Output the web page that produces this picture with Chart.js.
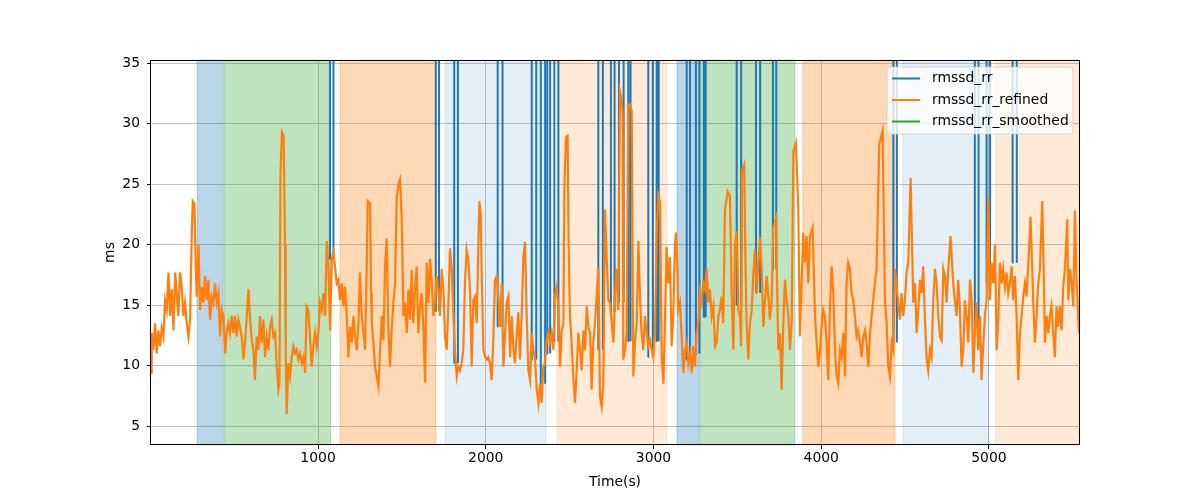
<!DOCTYPE html>
<html lang="en">

<head>
    <meta charset="UTF-8">
    <title>rmssd</title>
    <script src="https://cdn.jsdelivr.net/npm/chart.js"></script>
    <style>
        body { margin: 0; background: #fff; }
    </style>
</head>

<body>
    <canvas id="grafico" width="1200" height="500"></canvas>
</body>

</html>

<script>
    // time (s) and rmssd_rr_refined (ms)
    var timeRefined = [
        4, 8, 18, 28, 38, 48, 58, 68, 78, 88, 98, 108, 118, 128, 138, 148, 157, 167, 177, 187, 197, 207, 217, 227, 237, 247, 253, 263, 271, 277, 287, 297, 306, 316, 326, 336, 346, 356, 366, 376, 386, 396, 406, 416, 426, 436, 446, 456, 465, 475, 485, 495, 505, 515, 525, 535, 545, 555, 565, 575, 585, 595, 605, 615, 624, 634, 644, 654, 664, 674, 684, 694, 704, 714, 724, 734, 744, 754, 764, 770, 776, 785, 795, 803, 807, 813, 823, 833, 843, 853, 863, 873, 883, 893, 903, 913, 923, 932, 942, 952, 962, 972, 982, 992, 1002, 1012, 1022, 1032, 1042, 1052, 1062, 1072, 1082, 1091, 1101, 1111, 1121, 1131, 1141, 1151, 1161, 1171, 1181, 1191, 1201, 1211, 1221, 1231, 1240, 1250, 1260, 1270, 1280, 1290, 1296, 1310, 1316, 1320, 1330, 1340, 1350, 1360, 1370, 1380, 1390, 1399, 1409, 1419, 1429, 1439, 1449, 1459, 1469, 1479, 1489, 1499, 1509, 1519, 1529, 1539, 1549, 1558, 1568, 1578, 1588, 1598, 1608, 1618, 1628, 1638, 1648, 1658, 1668, 1678, 1688, 1698, 1707, 1717,
        1727, 1737, 1747, 1757, 1767, 1777, 1787, 1797, 1807, 1817, 1827, 1837, 1847, 1856, 1866, 1876, 1886, 1896, 1906, 1916, 1926, 1936, 1946, 1956, 1962, 1970, 1976, 1986, 1996, 2006, 2015, 2025, 2035, 2045, 2055, 2065, 2075, 2085, 2095, 2105, 2115, 2125, 2135, 2145, 2155, 2165, 2174, 2184, 2194, 2204, 2214, 2224, 2234, 2244, 2254, 2264, 2274, 2284, 2294, 2304, 2314, 2323, 2333, 2343, 2353, 2363, 2373, 2383, 2393, 2403, 2413, 2423, 2433, 2443, 2453, 2463, 2469, 2478, 2488, 2494, 2502, 2512, 2522, 2532, 2542, 2552, 2562, 2572, 2582, 2592, 2602, 2612, 2622, 2631, 2641, 2651, 2661, 2671, 2681, 2691, 2701, 2711, 2721, 2731, 2741, 2751, 2761, 2771, 2780, 2790, 2800, 2810, 2816, 2820, 2830, 2840, 2850, 2860, 2870, 2880, 2890, 2900, 2910, 2920, 2929, 2939, 2949, 2959, 2969, 2979, 2989, 2999, 3009, 3019, 3029, 3039, 3049, 3059, 3069, 3078, 3088, 3098, 3108, 3118, 3128, 3134, 3142, 3148, 3158, 3168, 3178, 3188, 3198, 3208, 3218, 3228, 3237, 3247, 3257, 3267, 3277, 3287, 3297, 3307, 3317, 3327, 3337, 3347, 3357, 3367, 3377, 3387, 3396, 3406, 3416, 3426, 3442, 3456, 3466, 3476, 3486, 3496, 3506,
        3516, 3522, 3528, 3541, 3549, 3555, 3565, 3575, 3585, 3595, 3605, 3615, 3625, 3635, 3645, 3655, 3665, 3675, 3685, 3694, 3704, 3714, 3730, 3744, 3754, 3764, 3774, 3784, 3794, 3804, 3814, 3824, 3834, 3849, 3863, 3873, 3883, 3893, 3903, 3913, 3923, 3933, 3949, 3963, 3973, 3983, 3993, 4002, 4012, 4022, 4032, 4042, 4052, 4062, 4072, 4082, 4092, 4102, 4112, 4122, 4132, 4142, 4151, 4161, 4171, 4181, 4191, 4201, 4211, 4221, 4231, 4241, 4251, 4261, 4271, 4281, 4291, 4301, 4310, 4320, 4330, 4346, 4366, 4380, 4390, 4400, 4410, 4420, 4430, 4440, 4450, 4459, 4469, 4479, 4489, 4499, 4509, 4519, 4533, 4549, 4559, 4569, 4579, 4589, 4599, 4608, 4618, 4628, 4638, 4648, 4658, 4668, 4678, 4688, 4698, 4708, 4718, 4728, 4738, 4748, 4758, 4771, 4787, 4797, 4807, 4817, 4827, 4837, 4847, 4857, 4867, 4877, 4887, 4897, 4907, 4916, 4926, 4936, 4946, 4956, 4966, 4976, 4986, 4996, 5006, 5016, 5026, 5036, 5046, 5056, 5066, 5075, 5085, 5095, 5105, 5115, 5125, 5135, 5145, 5155, 5165, 5175, 5185, 5195, 5205, 5215, 5224, 5234, 5248, 5264, 5274, 5284, 5294, 5304, 5318, 5328, 5334, 5344, 5354, 5364, 5373, 5383, 5393, 5403, 5413, 5423, 5433, 5443, 5453, 5467, 5473, 5483, 5493, 5503, 5513, 5522, 5532, 5537
    ];
    var rmssdRefined = [
        9.4, 12.7, 11.3, 13.5, 11.0, 12.9, 11.6, 13.1, 12.4, 15.4, 14.6, 17.7, 14.1, 16.3, 12.9, 17.7, 16.0, 14.1, 17.7, 16.5, 14.1, 15.2, 13.5, 12.4, 13.8, 20.8, 23.6, 23.4, 18.0, 15.7, 20.0, 14.6, 16.5, 15.2, 17.4, 15.4, 17.1, 13.8, 15.7, 15.2, 16.8, 15.2, 16.0, 12.4, 14.6, 14.1, 11.0, 12.9, 13.5, 12.7, 14.1, 12.7, 14.1, 12.4, 13.8, 13.2, 12.4, 10.5, 11.9, 14.1, 16.3, 13.8, 12.1, 11.3, 8.8, 12.4, 11.3, 14.1, 11.9, 13.8, 10.7, 12.4, 11.3, 13.2, 13.8, 12.4, 12.7, 9.9, 8.0, 8.5, 26.0, 29.3, 29.0, 20.0, 11.3, 6.0, 10.2, 9.1, 10.7, 11.6, 11.0, 11.3, 10.5, 11.0, 10.2, 10.7, 9.4, 14.9, 14.6, 12.4, 9.9, 11.6, 12.7, 11.6, 12.7, 15.2, 14.6, 16.0, 14.1, 20.3, 18.2, 12.9, 18.8, 19.4, 18.2, 16.8, 17.1, 15.4, 16.8, 14.9, 16.5, 14.1, 10.7, 13.2, 11.9, 14.1, 12.4, 11.3, 13.2, 17.7, 14.1, 12.9, 11.3, 18.0, 23.6, 23.4, 16.0, 13.5, 11.9, 9.9, 9.1, 8.3, 11.3, 14.1, 12.1, 18.0, 20.5, 13.2, 9.9, 12.9, 15.2, 16.8, 23.8, 25.0, 25.4, 22.0, 14.1, 15.2, 12.7, 16.3, 13.8, 17.9, 13.5, 16.3, 18.2, 12.7, 14.9, 16.0, 13.2, 8.6, 18.5, 15.2, 18.8, 16.8, 14.1, 15.4, 17.4, 16.3,
        14.1, 18.0, 16.5, 12.4, 11.3, 15.0, 19.7, 18.0, 14.1, 11.0, 9.1, 9.9, 9.6, 10.2, 11.3, 16.8, 19.6, 18.8, 16.3, 9.9, 15.4, 15.7, 13.5, 20.0, 23.6, 22.5, 17.4, 11.3, 10.7, 10.5, 10.7, 10.2, 8.8, 12.1, 17.1, 17.4, 15.7, 13.2, 16.8, 9.9, 12.7, 15.2, 15.7, 10.7, 14.1, 11.3, 10.2, 12.4, 14.4, 10.5, 14.1, 19.0, 20.2, 14.1, 9.6, 8.8, 12.7, 11.3, 10.5, 8.0, 6.9, 8.5, 6.9, 9.9, 10.2, 12.1, 12.7, 11.9, 12.7, 11.3, 15.7, 16.5, 14.9, 9.9, 12.9, 13.5, 25.0, 28.9, 29.0, 20.0, 14.1, 11.9, 9.1, 6.9, 9.6, 12.7, 11.3, 9.6, 12.9, 11.3, 14.9, 13.2, 12.7, 8.0, 11.9, 13.5, 15.7, 18.0, 7.5, 6.6, 8.5, 22.9, 19.0, 15.4, 15.2, 13.5, 11.9, 16.0, 18.0, 14.6, 32.7, 32.0, 30.8, 10.5, 11.3, 12.7, 31.6, 31.6, 31.0, 9.1, 11.9, 13.5, 20.3, 15.4, 12.7, 11.3, 14.1, 12.7, 11.6, 12.1, 11.3, 10.7, 12.7, 21.0, 24.1, 23.5, 10.7, 8.5, 14.1, 19.8, 16.8, 19.0, 11.6, 14.1, 20.0, 21.0, 18.2, 14.6, 15.2, 12.4, 9.4, 11.3, 11.9, 10.2, 11.0, 9.4, 11.6, 9.9, 12.7, 13.5, 16.0, 15.2, 16.8, 16.3, 18.0, 15.2, 16.3, 14.1, 14.9, 11.6, 11.9, 14.1, 14.6, 15.7, 13.5, 22.8, 24.4, 24.0, 16.0, 11.3, 20.0, 21.1, 14.6,
        14.1, 11.6, 26.1, 26.6, 18.0, 13.5, 10.5, 13.5, 14.5, 17.5, 19.6, 16.0, 18.5, 20.6, 18.0, 13.2, 15.4, 17.4, 15.7, 13.8, 15.2, 21.4, 22.2, 11.3, 12.7, 8.0, 13.5, 17.1, 15.4, 14.1, 11.3, 13.8, 27.7, 28.4, 23.3, 12.4, 16.8, 21.0, 18.5, 20.7, 16.8, 20.7, 21.4, 14.1, 11.9, 9.9, 11.3, 13.2, 14.6, 14.1, 11.9, 8.8, 14.6, 18.2, 16.0, 11.3, 9.1, 8.5, 11.3, 10.7, 12.7, 9.1, 16.8, 18.5, 18.0, 16.0, 15.4, 14.1, 12.4, 12.9, 11.9, 10.7, 12.4, 12.9, 11.9, 9.9, 12.7, 14.1, 15.4, 16.8, 18.0, 28.3, 29.4, 15.4, 13.5, 9.9, 9.1, 11.9, 11.3, 18.0, 16.5, 15.2, 13.8, 16.0, 14.1, 15.4, 17.7, 18.5, 25.5, 15.2, 16.8, 12.7, 14.6, 17.1, 16.0, 18.2, 14.1, 10.7, 9.6, 11.3, 10.7, 15.4, 18.0, 16.8, 14.1, 12.4, 12.1, 18.0, 17.4, 15.2, 18.0, 20.7, 16.8, 15.4, 14.1, 17.1, 14.6, 9.9, 11.3, 15.4, 14.1, 11.9, 17.1, 15.4, 9.4, 12.7, 15.2, 11.3, 14.1, 8.8, 11.6, 14.1, 15.4, 23.9, 15.4, 18.5, 16.8, 20.0, 11.3, 14.1, 18.5, 16.8, 18.0, 16.5, 17.7, 16.0, 16.8, 18.2, 15.4, 17.4, 14.1, 8.8, 12.7, 14.1, 15.7, 16.8, 15.7, 18.2, 22.3, 15.4, 11.9, 14.1, 16.8, 18.0, 23.6, 16.8, 11.9, 14.1, 12.7, 14.1, 14.9, 12.7, 10.7, 14.9, 13.2, 14.9, 12.9, 16.5, 18.0, 22.1, 15.4, 18.0, 16.8, 14.9, 22.8, 17.4, 14.1, 12.7
    ];

    // rmssd_rr outliers: they go far above the axis
    var spikeStart = [1071, 1702, 1812, 2071, 2274, 2328, 2367, 2409, 2671, 2747, 2795, 2850, 2969, 3019, 3198, 3253, 3300, 3496, 3611, 3712, 4430, 4917, 4986, 5141];
    var spikeEnd = [1091, 1720, 1833, 2099, 2300, 2353, 2383, 2432, 2697, 2767, 2821, 2862, 2995, 3030, 3217, 3273, 3310, 3522, 3635, 3731, 4450, 4937, 5006, 5165];
    var spikeLow = [18.8, 14.5, 10.2, 13.2, 10.5, 8.5, 11.0, 12.0, 11.3, 14.4, 15.2, 12.0, 10.7, 12.0, 10.5, 11.0, 14.0, 15.0, 16.0, 18.0, 11.9, 12.9, 16.8, 18.5];
    var spikeHigh = 400;

    // shaded periods
    var spanFrom = [279, 440, 1131, 1757, 2424, 3140, 3277, 3890, 4487, 5040];
    var spanTo = [434, 1075, 1703, 2359, 3080, 3271, 3843, 4440, 5000, 5540];
    var spanColor = [
        'rgba(31,119,180,0.3)', 'rgba(44,160,44,0.3)', 'rgba(255,127,14,0.3)', 'rgba(31,119,180,0.12)', 'rgba(255,127,14,0.16)',
        'rgba(31,119,180,0.3)', 'rgba(44,160,44,0.3)', 'rgba(255,127,14,0.3)', 'rgba(31,119,180,0.12)', 'rgba(255,127,14,0.16)'
    ];

    var xTicks = [1000, 2000, 3000, 4000, 5000];
    var yTicks = [5, 10, 15, 20, 25, 30, 35];
    var seriesNames = ['rmssd_rr', 'rmssd_rr_refined', 'rmssd_rr_smoothed'];
    var seriesColors = ['#1f77b4', '#ff7f0e', '#2ca02c'];

    var refinedPoints = [];
    for (var i = 0; i < timeRefined.length; i++) {
        refinedPoints.push({ x: timeRefined[i], y: rmssdRefined[i] });
    }

    var rawPoints = [];
    for (var j = 0; j < spikeStart.length; j++) {
        rawPoints.push({ x: spikeStart[j] - 1, y: spikeLow[j] });
        rawPoints.push({ x: spikeStart[j], y: spikeHigh });
        rawPoints.push({ x: spikeEnd[j], y: spikeHigh });
        rawPoints.push({ x: spikeEnd[j] + 1, y: spikeLow[j] });
        rawPoints.push({ x: spikeEnd[j] + 1, y: null });
    }

    var spans = {
        id: 'spans',
        beforeDatasetsDraw(chart) {
            var c = chart.ctx, a = chart.chartArea, xs = chart.scales.x;
            c.save();
            for (var k = 0; k < spanFrom.length; k++) {
                var x1 = Math.max(xs.getPixelForValue(spanFrom[k]), a.left);
                var x2 = Math.min(xs.getPixelForValue(spanTo[k]), a.right);
                c.fillStyle = spanColor[k];
                c.fillRect(x1, a.top, x2 - x1, a.bottom - a.top);
                c.strokeStyle = spanColor[k];
                c.lineWidth = 1;
                c.strokeRect(x1, a.top, x2 - x1, a.bottom - a.top);
            }
            c.restore();
        }
    };

    var frameAndLegend = {
        id: 'frameAndLegend',
        afterDatasetsDraw(chart) {
            var c = chart.ctx, a = chart.chartArea;
            c.save();
            c.strokeStyle = '#000';
            c.lineWidth = 1;
            c.strokeRect(Math.round(a.left) - 0.5, Math.round(a.top) + 0.5, Math.round(a.right - a.left) + 1, Math.round(a.bottom - a.top) - 1);

            // legend box, top right
            var bx = 887, by = 67, bw = 186, bh = 67, r = 3;
            c.beginPath();
            c.moveTo(bx + r, by);
            c.arcTo(bx + bw, by, bx + bw, by + bh, r);
            c.arcTo(bx + bw, by + bh, bx, by + bh, r);
            c.arcTo(bx, by + bh, bx, by, r);
            c.arcTo(bx, by, bx + bw, by, r);
            c.closePath();
            c.fillStyle = 'rgba(255,255,255,0.8)';
            c.fill();
            c.strokeStyle = 'rgba(204,204,204,0.8)';
            c.stroke();

            c.font = '13.9px "DejaVu Sans"';
            c.textBaseline = 'middle';
            c.textAlign = 'left';
            for (var k = 0; k < seriesNames.length; k++) {
                var ly = 78.5 + k * 21.5;
                c.strokeStyle = seriesColors[k];
                c.lineWidth = 2;
                c.beginPath();
                c.moveTo(892, ly);
                c.lineTo(920, ly);
                c.stroke();
                c.fillStyle = '#000';
                c.fillText(seriesNames[k], 932, ly);
            }
            c.restore();
        }
    };

    Chart.defaults.font.family = '"DejaVu Sans"';
    Chart.defaults.color = '#000';

    var grafico = new Chart(document.getElementById('grafico'), {
        type: 'line',
        data: {
            datasets: [{
                label: seriesNames[0],
                data: rawPoints,
                borderColor: seriesColors[0],
                borderWidth: 2,
                pointRadius: 0,
                spanGaps: false,
                clip: 0,
                order: 2
            }, {
                label: seriesNames[1],
                data: refinedPoints,
                borderColor: seriesColors[1],
                borderWidth: 2.2,
                pointRadius: 0,
                clip: 0,
                order: 1
            }, {
                label: seriesNames[2],
                data: [],
                borderColor: seriesColors[2],
                borderWidth: 2,
                pointRadius: 0,
                order: 0
            }]
        },
        options: {
            responsive: false,
            animation: false,
            events: [],
            layout: { padding: { top: 60, right: 121, bottom: 0, left: 0 } },
            plugins: {
                legend: { display: false },
                tooltip: { enabled: false }
            },
            scales: {
                x: {
                    type: 'linear',
                    min: 4,
                    max: 5537,
                    afterBuildTicks: function (s) { s.ticks = xTicks.map(function (v) { return { value: v }; }); },
                    afterFit: function (s) { s.height = 55; },
                    grid: { color: '#b0b0b0', lineWidth: 0.8, tickLength: 4, tickColor: '#000', tickWidth: 1 },
                    border: { display: false },
                    ticks: { font: { size: 13.9 }, padding: 1, maxRotation: 0, callback: function (v) { return String(v); } },
                    title: { display: true, text: 'Time(s)', font: { size: 13.9 }, padding: { top: 0, bottom: 9 } }
                },
                y: {
                    min: 3.43,
                    max: 35.27,
                    afterBuildTicks: function (s) { s.ticks = yTicks.map(function (v) { return { value: v }; }); },
                    afterFit: function (s) { s.width = 151; },
                    grid: { color: '#b0b0b0', lineWidth: 0.8, tickLength: 4, tickColor: '#000', tickWidth: 1 },
                    border: { display: false },
                    ticks: { font: { size: 13.9 }, padding: 7, callback: function (v) { return String(v); } },
                    title: { display: true, text: 'ms', font: { size: 13.9 }, padding: { top: 102, bottom: 0 } }
                }
            }
        },
        plugins: [spans, frameAndLegend]
    });
</script>
